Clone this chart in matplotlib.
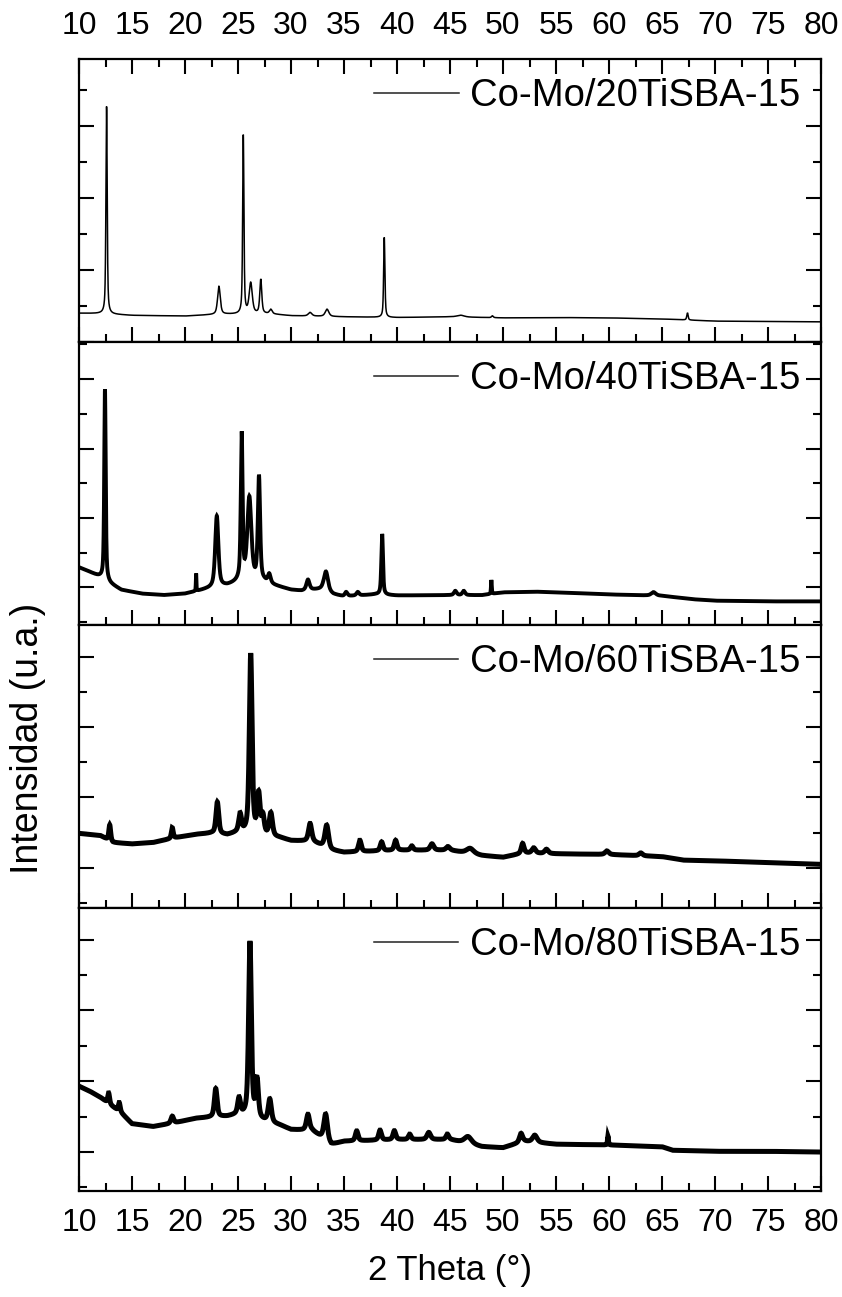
import numpy as np
import matplotlib
matplotlib.use("Agg")
import matplotlib.pyplot as plt
from matplotlib.ticker import MultipleLocator, NullFormatter
from matplotlib.lines import Line2D

plt.rcParams['font.family'] = ['Liberation Sans', 'DejaVu Sans']

# ---------------- data (arbitrary units) ----------------
labels = ["Co-Mo/20TiSBA-15", "Co-Mo/40TiSBA-15", "Co-Mo/60TiSBA-15", "Co-Mo/80TiSBA-15"]

# panel 1 : Co-Mo/20TiSBA-15
p1_base_x = [10, 12, 15, 20, 22, 24, 28, 30, 35, 40, 45, 50, 55, 60, 65, 70, 75, 80]
p1_base_y = [0.80, 0.79, 0.74, 0.72, 0.75, 0.77, 0.78, 0.73, 0.70, 0.68, 0.70, 0.67, 0.68, 0.67, 0.64, 0.58, 0.57, 0.56]
p1_pos = [12.6, 23.2, 25.5, 26.2, 27.15, 28.1, 31.8, 33.4, 38.8, 46.0, 49.0, 67.4]
p1_h   = [5.76, 0.78, 4.95, 0.85, 0.95, 0.12, 0.10, 0.20, 2.22, 0.05, 0.05, 0.20]
p1_w   = [0.14, 0.30, 0.14, 0.35, 0.22, 0.30, 0.40, 0.40, 0.14, 0.80, 0.20, 0.15]

# panel 2 : Co-Mo/40TiSBA-15
p2_base_x = [10, 11, 12, 13, 14, 16, 18, 20, 22, 24, 25, 27.5, 28.5, 30, 31, 32, 33, 34, 35, 38, 40, 45, 48, 50, 53, 56, 60, 65, 68, 70, 75, 80]
p2_base_y = [2.58, 2.45, 2.30, 2.10, 1.93, 1.82, 1.78, 1.82, 1.95, 2.05, 2.15, 2.15, 2.05, 1.93, 1.90, 1.93, 1.95, 1.80, 1.74, 1.80, 1.77, 1.78, 1.78, 1.86, 1.88, 1.85, 1.80, 1.76, 1.66, 1.62, 1.60, 1.60]
p2_pos = [12.45, 21.05, 23.0, 25.35, 26.07, 26.98, 27.95, 31.6, 33.3, 35.2, 36.3, 38.6, 45.5, 46.3, 48.9, 64.2]
p2_h   = [5.50, 0.50, 2.05, 4.20, 2.40, 3.00, 0.25, 0.30, 0.55, 0.12, 0.10, 1.75, 0.12, 0.12, 0.40, 0.10]
p2_w   = [0.16, 0.06, 0.35, 0.20, 0.45, 0.25, 0.30, 0.35, 0.45, 0.30, 0.30, 0.18, 0.30, 0.30, 0.08, 0.50]

# panel 3 : Co-Mo/60TiSBA-15
p3_base_x = [10, 12, 13.2, 15, 17, 19, 21, 22.5, 24, 25, 29, 30, 32, 33.8, 35, 40, 45, 48, 50, 52, 55, 60, 65, 67, 70, 75, 80]
p3_base_y = [2.98, 2.92, 2.72, 2.68, 2.72, 2.85, 2.95, 2.98, 2.93, 3.00, 2.85, 2.77, 2.75, 2.50, 2.44, 2.50, 2.50, 2.35, 2.30, 2.42, 2.40, 2.38, 2.32, 2.22, 2.20, 2.15, 2.10]
p3_pos = [12.9, 18.8, 23.05, 25.2, 26.2, 26.95, 27.35, 28.1, 31.8, 33.37, 36.5, 38.55, 39.87, 41.4, 43.3, 44.8, 46.9, 51.85, 52.9, 54.1, 59.8, 63.0]
p3_h   = [0.45, 0.30, 0.90, 0.50, 5.10, 1.10, 0.50, 0.65, 0.50, 0.65, 0.32, 0.25, 0.28, 0.12, 0.18, 0.10, 0.15, 0.28, 0.15, 0.12, 0.10, 0.08]
p3_w   = [0.20, 0.20, 0.30, 0.30, 0.30, 0.30, 0.30, 0.35, 0.35, 0.40, 0.30, 0.30, 0.30, 0.30, 0.40, 0.40, 0.80, 0.30, 0.40, 0.40, 0.40, 0.40]

# panel 4 : Co-Mo/80TiSBA-15
p4_base_x = [10, 11, 12, 13, 14, 15, 17, 19, 21, 22.5, 24, 25, 29, 30, 32, 33.8, 35, 40, 45, 48, 50, 52, 55, 60, 65, 66, 70, 75, 80]
p4_base_y = [3.86, 3.72, 3.55, 3.32, 3.10, 2.80, 2.72, 2.82, 2.95, 2.98, 3.00, 3.05, 2.75, 2.63, 2.60, 2.20, 2.30, 2.35, 2.35, 2.15, 2.12, 2.30, 2.22, 2.20, 2.15, 2.05, 2.02, 2.02, 2.00]
p4_pos = [12.8, 13.8, 18.8, 22.9, 25.1, 26.13, 26.8, 28.0, 31.6, 33.27, 36.2, 38.4, 39.75, 41.2, 43.0, 44.75, 46.7, 51.7, 53.0, 59.9]
p4_h   = [0.30, 0.25, 0.20, 0.80, 0.45, 4.95, 1.05, 0.65, 0.45, 0.75, 0.28, 0.28, 0.25, 0.15, 0.20, 0.15, 0.20, 0.25, 0.20, 0.25]
p4_w   = [0.20, 0.20, 0.30, 0.30, 0.30, 0.30, 0.30, 0.35, 0.35, 0.40, 0.30, 0.30, 0.30, 0.30, 0.40, 0.30, 0.80, 0.35, 0.50, 0.10]

x_ticks = [10, 15, 20, 25, 30, 35, 40, 45, 50, 55, 60, 65, 70, 75, 80]
ylims = [(0.0, 7.86), (0.92, 9.07), (0.86, 8.90), (0.90, 8.89)]

panels = [
    (p1_base_x, p1_base_y, p1_pos, p1_h, p1_w),
    (p2_base_x, p2_base_y, p2_pos, p2_h, p2_w),
    (p3_base_x, p3_base_y, p3_pos, p3_h, p3_w),
    (p4_base_x, p4_base_y, p4_pos, p4_h, p4_w),
]
line_widths = [1.1, 2.8, 3.6, 3.6]

# ---------------- build patterns ----------------
two_theta = np.linspace(10, 80, 7001)


def pattern(bx, by, pos, h, w, eta=0.6):
    y = np.interp(two_theta, bx, by)
    for p, a, f in zip(pos, h, w):
        hw = f / 2.0
        lor = hw**2 / ((two_theta - p)**2 + hw**2)
        gau = np.exp(-np.log(2) * ((two_theta - p) / hw)**2)
        y = y + a * (eta * lor + (1 - eta) * gau)
    return y


# ---------------- figure ----------------
fig = plt.figure(figsize=(8.42, 12.97), dpi=100)
left, right = 79 / 842, 821 / 842
top, bottom = 1 - 59 / 1297, 1 - 1191 / 1297
ph = (top - bottom) / 4

axes = []
for i, (bx, by, pos, h, w) in enumerate(panels):
    ax = fig.add_axes([left, top - (i + 1) * ph, right - left, ph])
    axes.append(ax)
    y = pattern(bx, by, pos, h, w)
    ax.plot(two_theta, y, color='black', lw=line_widths[i], solid_joinstyle='miter')
    ax.set_xlim(10, 80)
    ax.set_ylim(*ylims[i])
    ax.xaxis.set_major_locator(MultipleLocator(5))
    ax.xaxis.set_minor_locator(MultipleLocator(2.5))
    ax.yaxis.set_major_locator(MultipleLocator(2))
    ax.yaxis.set_minor_locator(MultipleLocator(1))
    ax.yaxis.set_major_formatter(NullFormatter())
    for sp in ax.spines.values():
        sp.set_linewidth(1.6)
    ax.tick_params(axis='both', which='both', direction='in', width=1.5)
    ax.tick_params(axis='both', which='major', length=10.5)
    ax.tick_params(axis='both', which='minor', length=5.5)
    ax.tick_params(axis='y', which='both', left=True, right=True, labelleft=False)
    ax.tick_params(axis='x', which='both', bottom=True, top=(i == 0),
                   labelbottom=(i == 3), labeltop=(i == 0),
                   pad=(13 if i == 0 else 12))
    ax.set_xticks(x_ticks)
    ax.set_xticklabels([str(t) for t in x_ticks], fontsize=23)
    handle = Line2D([], [], color='#222222', lw=1.1)
    ax.legend([handle], [labels[i]], loc='center right', bbox_to_anchor=(0.972, 0.869),
              frameon=False, fontsize=27.5, handlelength=2.2, handletextpad=0.3,
              borderpad=0, borderaxespad=0)

axes[3].set_xlabel("2 Theta (°)", fontsize=25, labelpad=12)
fig.text(0.033, 1 - 738 / 1297, "Intensidad (u.a.)", rotation=90, fontsize=27,
         ha='center', va='center')

fig.savefig("out.png", dpi=100)
